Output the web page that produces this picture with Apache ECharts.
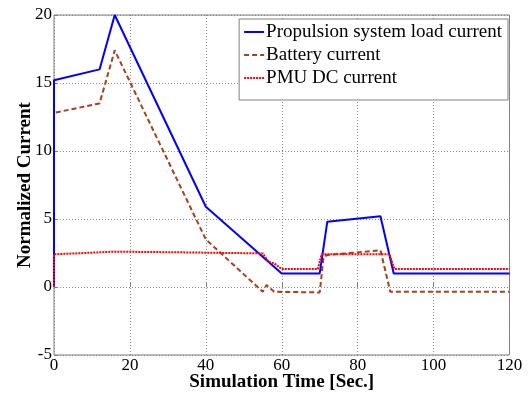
<!DOCTYPE html>
<html><head><meta charset="utf-8">
<script src="https://cdn.jsdelivr.net/npm/echarts@6/dist/echarts.min.js"></script>
<style>html,body{margin:0;padding:0;background:#fff}#c{width:528px;height:393px}</style>
</head><body><div id="c"></div>
<script>
const seriesNames = ['Propulsion system load current', 'Battery current', 'PMU DC current'];
const propT = [0, 0, 12, 16, 40, 60, 70, 72, 86, 89.5, 120];
const propV = [0, 15.2, 16.0, 20.0, 5.9, 1.0, 1.0, 4.8, 5.2, 1.0, 1.0];
const battT = [0, 0, 12, 16, 40, 55, 56, 58, 70, 71, 72, 86, 88.6, 120];
const battV = [0, 12.8, 13.5, 17.4, 3.5, -0.35, 0.15, -0.35, -0.4, 2.2, 2.35, 2.7, -0.35, -0.35];
const pmuT = [0, 0, 16, 33, 55, 56.5, 58, 60, 69.5, 70.5, 88.4, 89.7, 120];
const pmuV = [0, 2.4, 2.6, 2.55, 2.47, 1.86, 1.74, 1.32, 1.32, 2.4, 2.4, 1.32, 1.32];
const xTicks = [0, 20, 40, 60, 80, 100, 120];
const yTicks = [-5, 0, 5, 10, 15, 20];

const zip = (t, v) => t.map((x, i) => [x, v[i]]);
const font = 'Liberation Serif';
const chart = echarts.init(document.getElementById('c'));
const gridLine = {show: true, lineStyle: {color: '#8a8a8a', type: [1, 2], width: 1}};
chart.setOption({
  animation: false,
  grid: {left: 54, right: 18.5, top: 15, bottom: 38, show: true, borderColor: '#7f7f7f', borderWidth: 1,
         outerBoundsMode: 'none', containLabel: false},
  xAxis: {
    type: 'value', min: xTicks[0], max: xTicks[xTicks.length - 1], interval: 20,
    name: 'Simulation Time [Sec.]', nameLocation: 'middle', nameGap: 18, nameMoveOverlap: false,
    nameTextStyle: {fontFamily: font, fontWeight: 'bold', fontSize: 19, color: '#000'},
    axisLine: {show: false}, axisTick: {show: true, inside: true, length: 4, lineStyle: {color: '#7f7f7f'}},
    axisLabel: {fontFamily: font, fontSize: 17, color: '#000', margin: 2},
    splitLine: gridLine
  },
  yAxis: {
    type: 'value', min: yTicks[0], max: yTicks[yTicks.length - 1], interval: 5,
    name: 'Normalized Current', nameLocation: 'middle', nameGap: 19, nameMoveOverlap: false,
    nameTextStyle: {fontFamily: font, fontWeight: 'bold', fontSize: 19, color: '#000'},
    axisLine: {show: false}, axisTick: {show: true, inside: true, length: 4, lineStyle: {color: '#7f7f7f'}},
    axisLabel: {fontFamily: font, fontSize: 17, color: '#000', margin: 2},
    splitLine: gridLine
  },
  legend: {
    orient: 'vertical', right: 20, top: 19, padding: [2, 6, 11, 4], itemGap: 1,
    itemWidth: 20, itemHeight: 14,
    backgroundColor: '#fff', borderColor: '#7f7f7f', borderWidth: 1,
    itemStyle: {opacity: 0},
    textStyle: {fontFamily: font, fontSize: 19, lineHeight: 22, color: '#000', padding: [0, 0, 0, -3]},
    data: seriesNames
  },
  series: [
    {name: seriesNames[0], type: 'line', symbol: 'none', data: zip(propT, propV),
     lineStyle: {color: '#0000ff', width: 2}, itemStyle: {color: '#0000ff'}, z: 3},
    {name: seriesNames[1], type: 'line', symbol: 'none', data: zip(battT, battV),
     lineStyle: {color: '#a8401c', width: 2, type: [5, 3]}, itemStyle: {color: '#a8401c'}, z: 2},
    {name: seriesNames[2], type: 'line', symbol: 'none', data: zip(pmuT, pmuV),
     lineStyle: {color: '#ff0000', width: 2, type: [2, 1]}, itemStyle: {color: '#ff0000'}, z: 4}
  ]
});
</script></body></html>
